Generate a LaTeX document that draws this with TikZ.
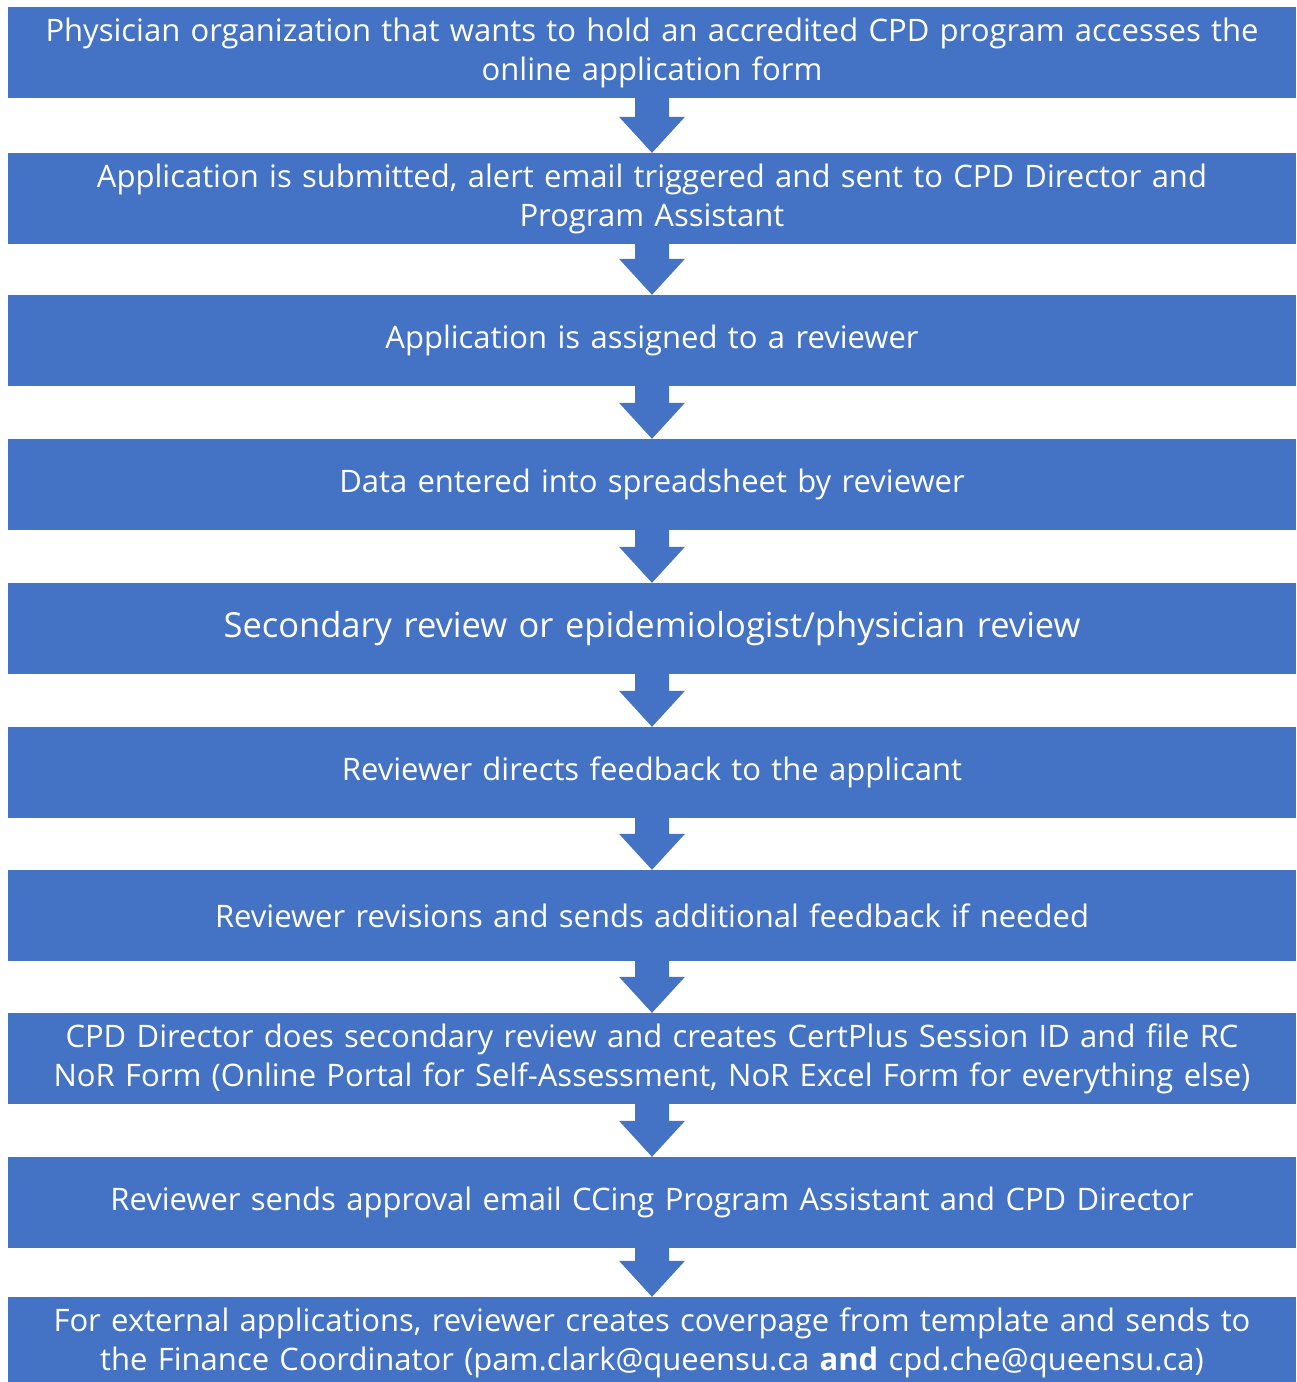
\documentclass[tikz,border=0pt]{standalone}
\usepackage{fontspec}
\setmainfont{Open Sans}
\usetikzlibrary{calc}
\definecolor{obl}{HTML}{4472C4}
\tikzset{
  box/.style={fill=obl, draw=none, text=white, minimum width=1288pt, minimum height=91pt,
    text width=1288pt, align=center, inner sep=0pt, font=\fontsize{31}{39}\selectfont},
  bigbox/.style={box, font=\fontsize{34.5}{40}\selectfont},
  arr/.style={fill=obl, draw=none}
}
\newcommand{\blockarrow}[2]{%
  \fill[arr] ($(#1.south)+(-17,-1)$) -- ($(#2.north)+(-17,-36)$) -- ($(#2.north)+(-33,-36)$)
    -- (#2.north) -- ($(#2.north)+(33,-36)$) -- ($(#2.north)+(17,-36)$) -- ($(#1.south)+(17,-1)$) -- cycle;}
\begin{document}
\begin{tikzpicture}[x=1pt,y=-1pt]
\useasboundingbox (0,0) rectangle (1297,1382);
\node[box] (b1) at (652,52.5) {Physician organization that wants to hold an accredited CPD program accesses the\\online application form};
\node[box] (b2) at (652,198.5) {Application is submitted, alert email triggered and sent to CPD Director and\\Program Assistant};
\node[box] (b3) at (652,340.5) {Application is assigned to a reviewer};
\node[box] (b4) at (652,484.5) {Data entered into spreadsheet by reviewer};
\node[bigbox] (b5) at (652,628.5) {Secondary review or epidemiologist/physician review};
\node[box] (b6) at (652,772.5) {Reviewer directs feedback to the applicant};
\node[box] (b7) at (652,915.5) {Reviewer revisions and sends additional feedback if needed};
\node[box] (b8) at (652,1058.5) {CPD Director does secondary review and creates CertPlus Session ID and file RC\\NoR Form (Online Portal for Self-Assessment, NoR Excel Form for everything else)};
\node[box] (b9) at (652,1202.5) {Reviewer sends approval email CCing Program Assistant and CPD Director};
\node[box] (b10) at (652,1342.5) {For external applications, reviewer creates coverpage from template and sends to\\the Finance Coordinator (pam.clark@queensu.ca \textbf{and} cpd.che@queensu.ca)};
\blockarrow{b1}{b2}
\blockarrow{b2}{b3}
\blockarrow{b3}{b4}
\blockarrow{b4}{b5}
\blockarrow{b5}{b6}
\blockarrow{b6}{b7}
\blockarrow{b7}{b8}
\blockarrow{b8}{b9}
\blockarrow{b9}{b10}
\end{tikzpicture}
\end{document}
